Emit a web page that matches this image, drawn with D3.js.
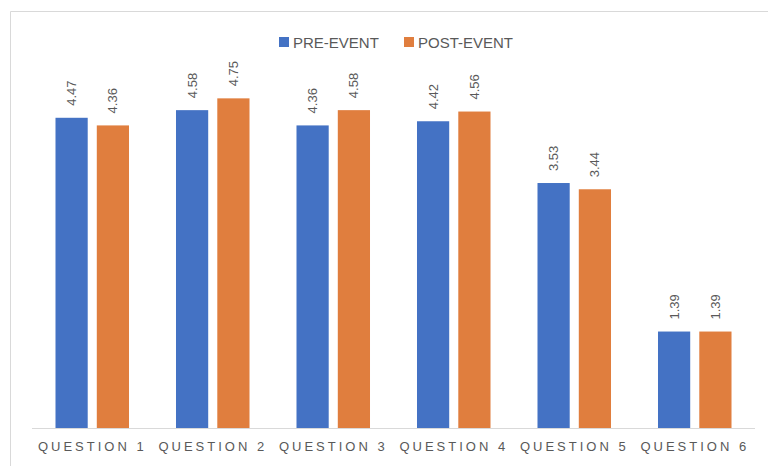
<!DOCTYPE html>
<html>
<head>
  <meta charset="utf-8">
  <title>Pre / post event scores</title>
  <script src="https://d3js.org/d3.v7.min.js"></script>
  <style>
    body { margin: 0; background: #fff; }
    text { font-family: "Liberation Sans", Arial, sans-serif; fill: #595959; }
  </style>
</head>
<body>
  <svg width="768" height="466"></svg>
  <script>
    var categories = ["QUESTION 1", "QUESTION 2", "QUESTION 3", "QUESTION 4", "QUESTION 5", "QUESTION 6"];
    var seriesNames = ["PRE-EVENT", "POST-EVENT"];
    var preEvent = [4.47, 4.58, 4.36, 4.42, 3.53, 1.39];
    var postEvent = [4.36, 4.75, 4.58, 4.56, 3.44, 1.39];
    var colors = ["#4472C4", "#E07E3E"];

    var svg = d3.select("svg");
    var margin = {left: 32, right: 13, top: 81, bottom: 38};
    var width = 768, height = 466;

    // chart frame (cropped at right and bottom)
    svg.append("path")
      .attr("d", "M10.5,466 V11.5 H768")
      .attr("fill", "none")
      .attr("stroke", "#d9d9d9");

    var x0 = d3.scaleBand()
      .domain(categories)
      .range([margin.left, width - margin.right])
      .paddingInner(0.39)
      .paddingOuter(0.195);

    var x1 = d3.scaleBand()
      .domain(seriesNames)
      .range([0, x0.bandwidth()])
      .paddingInner(0.22);

    var y = d3.scaleLinear()
      .domain([0, 5])
      .range([height - margin.bottom, margin.top]);

    var rows = categories.map(function(c, i) {
      return {cat: c, vals: [
        {name: seriesNames[0], v: preEvent[i], c: colors[0]},
        {name: seriesNames[1], v: postEvent[i], c: colors[1]}
      ]};
    });

    var groups = svg.append("g").selectAll("g")
      .data(rows)
      .enter().append("g")
        .attr("transform", function(d) { return "translate(" + x0(d.cat) + ",0)"; });

    groups.selectAll("rect")
      .data(function(d) { return d.vals; })
      .enter().append("rect")
        .attr("x", function(d) { return x1(d.name); })
        .attr("y", function(d) { return y(d.v); })
        .attr("width", x1.bandwidth())
        .attr("height", function(d) { return y(0) - y(d.v); })
        .attr("fill", function(d) { return d.c; });

    // value labels, rotated
    groups.selectAll("g.lbl")
      .data(function(d) { return d.vals; })
      .enter().append("g")
        .attr("class", "lbl")
        .attr("transform", function(d) {
          return "translate(" + (x1(d.name) + x1.bandwidth() / 2 + 4.5) + "," + (y(d.v) - 12) + ")";
        })
      .append("text")
        .attr("transform", "rotate(-90)")
        .attr("font-size", 13)
        .text(function(d) { return d.v.toFixed(2); });

    // x axis
    var xAxis = svg.append("g")
      .attr("transform", "translate(0," + y(0) + ")")
      .call(d3.axisBottom(x0).tickSize(0).tickPadding(14));
    xAxis.select(".domain").attr("stroke", "#d9d9d9").attr("d", "M" + margin.left + ",0.5H" + (width - margin.right));
    xAxis.selectAll("text")
      .attr("font-size", 13)
      .attr("letter-spacing", "3px")
      .attr("fill", "#595959")
      .style("font-family", "'Liberation Sans', Arial, sans-serif");

    // legend
    var legend = svg.append("g");
    var legX = [279, 404];
    seriesNames.forEach(function(n, i) {
      legend.append("rect")
        .attr("x", legX[i]).attr("y", 37)
        .attr("width", 10).attr("height", 10)
        .attr("fill", colors[i]);
      legend.append("text")
        .attr("x", legX[i] + 14).attr("y", 47.5)
        .attr("font-size", 15)
        .text(n);
    });
  </script>
</body>
</html>
